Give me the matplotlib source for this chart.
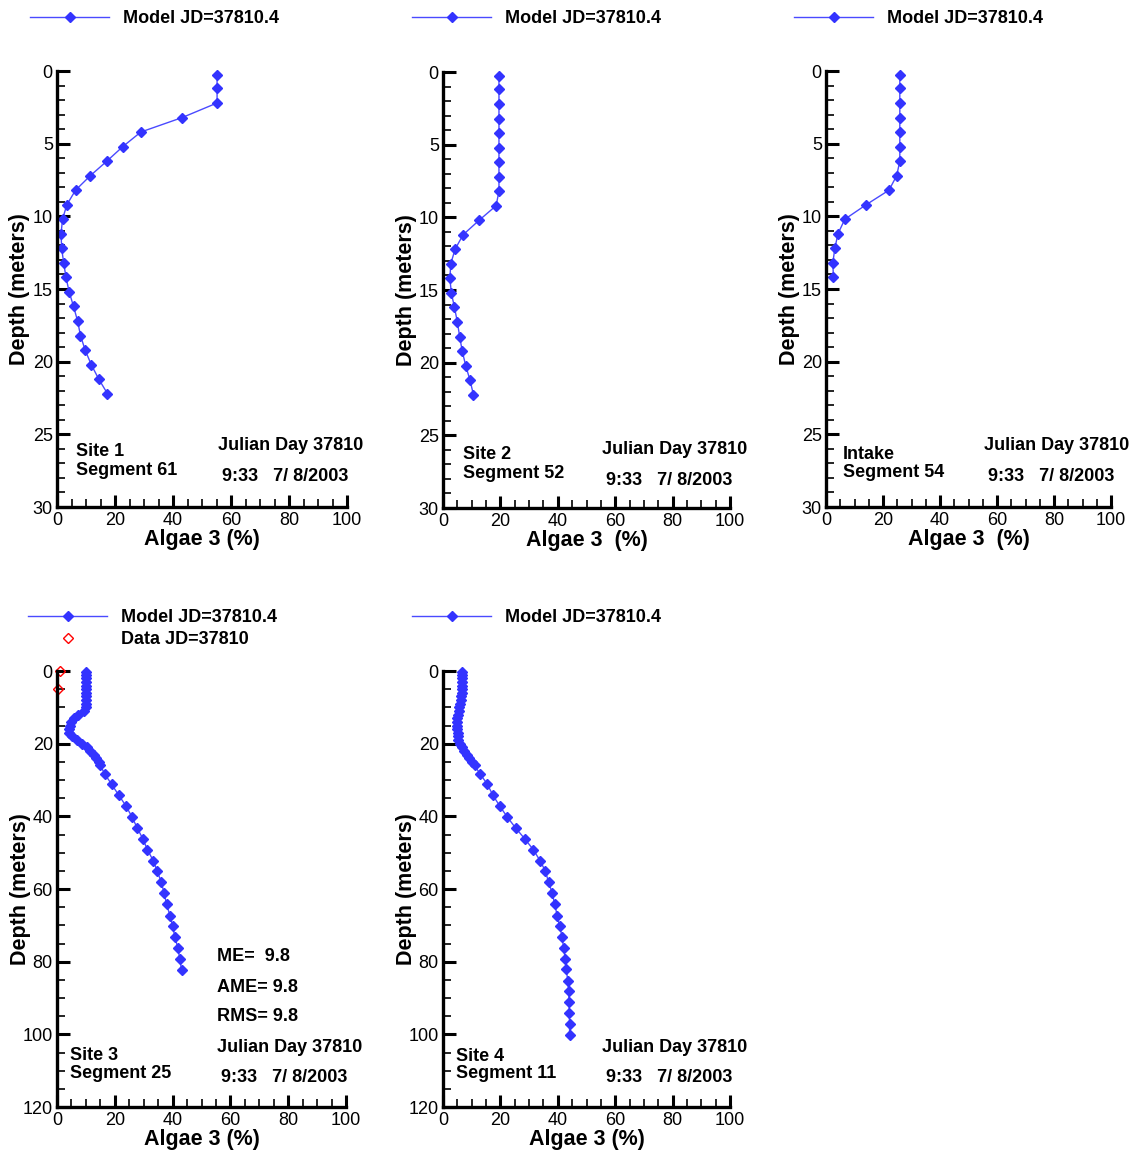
#!/usr/bin/env python
"""
Vertical profiles of Algae 3 (%) against depth for five sites,
model output for JD=37810.4 (plus one data profile at Site 3).
"""

import matplotlib
matplotlib.use('Agg')
import matplotlib.pyplot as plt
from matplotlib.ticker import MultipleLocator

plt.rcParams['font.family'] = ['Liberation Sans', 'DejaVu Sans']

W, H = 1134, 1154
BLUE = '#3333ff'
LINE_BLUE = '#4a4aff'

# upper row: shallow segments, 1 m layers
SHALLOW_DEPTH = [0.3, 1.2, 2.2, 3.2, 4.2, 5.2, 6.2, 7.2, 8.2, 9.2, 10.2,
                 11.2, 12.2, 13.2, 14.2, 15.2, 16.2, 17.2, 18.2, 19.2,
                 20.2, 21.2, 22.2]
SITE1_ALGAE = [55.2, 55.2, 55.2, 43.2, 28.9, 22.7, 17.2, 11.5, 6.4, 3.4,
               1.9, 1.4, 1.6, 2.3, 3.1, 4.2, 5.7, 7.1, 8.1, 9.7, 11.8,
               14.4, 17.4]
SITE2_ALGAE = [19.5, 19.5, 19.5, 19.5, 19.5, 19.5, 19.5, 19.5, 19.5, 18.5,
               12.6, 7.0, 4.2, 2.7, 2.4, 2.9, 4.0, 5.0, 5.8, 6.7, 7.9,
               9.4, 10.6]
INTAKE_DEPTH = [0.3, 1.2, 2.2, 3.2, 4.2, 5.2, 6.2, 7.2, 8.2, 9.2, 10.2,
                11.2, 12.2, 13.2, 14.2]
INTAKE_ALGAE = [25.9, 25.9, 25.9, 25.9, 25.9, 25.9, 25.9, 24.8, 22.1,
                14.1, 6.6, 4.2, 3.1, 2.4, 2.6]

# lower row: deep segments, thin layers near surface, thicker below
SITE3_DEPTH = [0.3, 1, 2, 3, 4, 5, 6, 7, 8, 9, 10, 11, 12, 13, 14, 15, 16,
               17, 18, 19, 20, 21, 22, 23, 24, 25, 26, 28.3, 31.2, 34.2,
               37.2, 40.1, 43.1, 46.2, 49.2, 52.2, 55.1, 58.2, 61.2, 64.2,
               67.3, 70.2, 73.2, 76.2, 79.3, 82.3]
SITE3_ALGAE = [9.9, 9.9, 9.9, 9.9, 9.9, 9.9, 9.9, 9.9, 9.9, 9.9, 9.9, 9.2,
               7.4, 5.9, 4.9, 4.4, 4.0, 4.2, 5.3, 7.0, 8.7, 10.3, 11.5,
               12.7, 13.6, 14.4, 15.0, 16.5, 18.9, 21.4, 23.9, 25.9, 27.7,
               29.7, 31.3, 33.3, 34.7, 36.1, 37.1, 37.9, 39.1, 40.0, 40.8,
               41.8, 42.5, 43.1]
SITE3_DATA_DEPTH = [0.0, 5.0]
SITE3_DATA_ALGAE = [0.9, 0.2]

SITE4_DEPTH = [0.3, 1, 2, 3, 4, 5, 6, 7, 8, 9, 10, 11, 12, 13, 14, 15, 16,
               17, 18, 19, 20, 21, 22, 23, 24, 25, 26, 28.3, 31.1, 34.2,
               37.2, 40.2, 43.2, 46.2, 49.2, 52.2, 55.1, 58.2, 61.2, 64.2,
               67.3, 70.2, 73.1, 76.2, 79.2, 82.1, 85.2, 88.2, 91.1, 94.1,
               97.2, 100.3]
SITE4_ALGAE = [6.6, 6.6, 6.6, 6.7, 6.7, 6.7, 6.6, 6.4, 6.2, 5.9, 5.7, 5.5,
               5.2, 5.0, 4.9, 4.9, 5.0, 5.1, 5.2, 5.4, 5.9, 6.6, 7.4, 8.3,
               9.2, 10.1, 11.0, 12.9, 15.4, 17.4, 19.8, 22.4, 25.3, 28.5,
               31.5, 33.8, 35.7, 36.8, 38.1, 38.9, 39.8, 40.6, 41.5, 42.0,
               42.6, 42.9, 43.5, 43.8, 43.9, 44.0, 44.1, 44.1]

MODEL_LABEL = 'Model JD=37810.4'
DATA_LABEL = 'Data JD=37810'
JULIAN = 'Julian Day 37810'
STAMP = '9:33   7/ 8/2003'


def fig_box(left, top, right, bottom):
    """
    Converts a pixel box into a figure fraction rectangle
    """
    return [left / W, 1 - bottom / H, (right - left) / W, (bottom - top) / H]


def setup_axes(ax, dmax, major, minor, xlabel):
    """
    Tecplot-like axes: left and bottom lines only, ticks pointing in
    """
    ax.set_xlim(0, 100)
    ax.set_ylim(dmax, 0)
    for side in ['top', 'right']:
        ax.spines[side].set_visible(False)
    for side in ['left', 'bottom']:
        ax.spines[side].set_linewidth(2.4)
    ax.xaxis.set_major_locator(MultipleLocator(20))
    ax.xaxis.set_minor_locator(MultipleLocator(5))
    ax.yaxis.set_major_locator(MultipleLocator(major))
    ax.yaxis.set_minor_locator(MultipleLocator(minor))
    ax.tick_params(which='major', direction='in', length=9, width=2.2,
                   labelsize=13, pad=3)
    ax.tick_params(which='minor', direction='in', length=6, width=1.2)
    ax.tick_params(axis='x', which='major', pad=3.5)
    ax.set_xlabel(xlabel, fontsize=15.5, fontweight='bold', va='center')
    ax.set_ylabel('Depth (meters)', fontsize=15.5, fontweight='bold',
                  va='center')
    ax.xaxis.set_label_coords(0.5, -0.075)
    ax.yaxis.set_label_coords(-0.128, 0.5)


def add_legend(ax, handles, x, y):
    """
    Places the legend with its line starting at pixel (x, y)
    """
    ax.legend(handles=handles, loc='upper left',
              bbox_to_anchor=(x / W, 1 - y / H),
              bbox_transform=ax.figure.transFigure, frameon=False,
              prop={'weight': 'bold', 'size': 13}, handlelength=4.4,
              handletextpad=0.75, borderpad=0, borderaxespad=0,
              labelspacing=0.3)


def add_text(ax, site, segment, x1, y1, x2, y2, yj, ys, stats=None):
    """
    Writes the site name and the date stamp inside the axes
    """
    kw = dict(fontsize=13, fontweight='bold', va='center', ha='left')
    ax.text(x1, y1, site, **kw)
    ax.text(x1, y2, segment, **kw)
    ax.text(x2, yj, JULIAN, **kw)
    ax.text(x2 + 1.5, ys, STAMP, **kw)
    if stats:
        for label, ypos in stats:
            ax.text(x2, ypos, label, **kw)


def model_line(ax, depth, value, ms=5.2):
    line, = ax.plot(value, depth, color=LINE_BLUE, lw=1, marker='D',
                    markersize=ms, markerfacecolor=BLUE,
                    markeredgecolor=BLUE, label=MODEL_LABEL, clip_on=False)
    return line


fig = plt.figure(figsize=(W / 100, H / 100), dpi=100)

# Site 1
ax1 = fig.add_axes(fig_box(57, 71, 347, 507))
l1 = model_line(ax1, SHALLOW_DEPTH, SITE1_ALGAE)
setup_axes(ax1, 30, 5, 1, 'Algae 3 (%)')
add_text(ax1, 'Site 1', 'Segment 61', 6.6, 26.2, 55.5, 27.5, 25.8, 27.9)
add_legend(ax1, [l1], 30, 10)

# Site 2
ax2 = fig.add_axes(fig_box(443, 72, 730, 508))
l2 = model_line(ax2, SHALLOW_DEPTH, SITE2_ALGAE)
setup_axes(ax2, 30, 5, 1, 'Algae 3  (%)')
add_text(ax2, 'Site 2', 'Segment 52', 7.0, 26.3, 55.4, 27.6, 26.0, 28.1)
add_legend(ax2, [l2], 412, 10)

# Intake
ax3 = fig.add_axes(fig_box(826, 71, 1111, 507))
l3 = model_line(ax3, INTAKE_DEPTH, INTAKE_ALGAE)
setup_axes(ax3, 30, 5, 1, 'Algae 3  (%)')
add_text(ax3, 'Intake', 'Segment 54', 6.0, 26.4, 55.4, 27.6, 25.8, 27.9)
add_legend(ax3, [l3], 794, 10)

# Site 3, with field data
ax4 = fig.add_axes(fig_box(57, 671, 346, 1107))
l4 = model_line(ax4, SITE3_DEPTH, SITE3_ALGAE)
d4, = ax4.plot(SITE3_DATA_ALGAE, SITE3_DATA_DEPTH, ls='none', marker='D',
               markersize=5.5, markerfacecolor='none', markeredgecolor='red',
               markeredgewidth=1, label=DATA_LABEL, clip_on=False)
setup_axes(ax4, 120, 20, 5, 'Algae 3 (%)')
stats = [('ME=  9.8', 78.7), ('AME= 9.8', 87.0), ('RMS= 9.8', 95.2)]
add_text(ax4, 'Site 3', 'Segment 25', 4.5, 105.7, 55.3, 110.9, 103.5,
         111.8, stats)
add_legend(ax4, [l4, d4], 28, 609)

# Site 4
ax5 = fig.add_axes(fig_box(443, 671, 730, 1107))
l5 = model_line(ax5, SITE4_DEPTH, SITE4_ALGAE)
setup_axes(ax5, 120, 20, 5, 'Algae 3 (%)')
add_text(ax5, 'Site 4', 'Segment 11', 4.5, 106.0, 55.3, 110.9, 103.5,
         112.0)
add_legend(ax5, [l5], 412, 609)

fig.savefig('out.png', dpi=100)
